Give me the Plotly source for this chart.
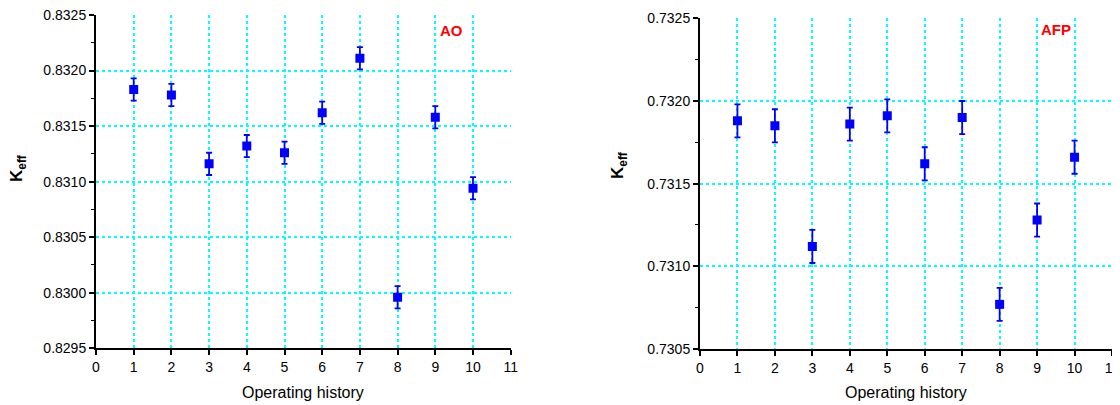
import plotly.graph_objects as go

history = [1, 2, 3, 4, 5, 6, 7, 8, 9, 10]
keff_ao = [0.83183, 0.83178, 0.83116, 0.83132, 0.83126, 0.83162, 0.83211, 0.82996, 0.83158, 0.83094]
err_ao = [0.0001] * 10
keff_afp = [0.73188, 0.73185, 0.73112, 0.73186, 0.73191, 0.73162, 0.73190, 0.73077, 0.73128, 0.73166]
err_afp = [0.0001] * 10
x_ticks = list(range(0, 12))
y_ticks_ao = [0.8295, 0.8300, 0.8305, 0.8310, 0.8315, 0.8320, 0.8325]
y_ticks_afp = [0.7305, 0.7310, 0.7315, 0.7320, 0.7325]

FONT = "Arial, Liberation Sans, sans-serif"
BLUE = "#0000FF"
CYAN = "#00FFFF"

OFF = 8  # default page body margin
W, H = 1120 - OFF, 405 - OFF
TOP, BOT = 15, 349  # plot area top/bottom in page pixels
PH = BOT - TOP


def px(xp):
    return (xp - OFF) / W


def py(yp):
    return (BOT - yp) / PH


fig = go.Figure()
fig.add_trace(go.Scatter(
    x=history, y=keff_ao, mode="markers",
    marker=dict(symbol="square", size=9, color=BLUE),
    error_y=dict(type="data", array=err_ao, color=BLUE, thickness=1.8, width=3),
    xaxis="x", yaxis="y", showlegend=False))
fig.add_trace(go.Scatter(
    x=history, y=keff_afp, mode="markers",
    marker=dict(symbol="square", size=9, color=BLUE),
    error_y=dict(type="data", array=err_afp, color=BLUE, thickness=1.8, width=3),
    xaxis="x2", yaxis="y2", showlegend=False))


def xax(domain, anchor):
    return dict(domain=domain, anchor=anchor, range=[0, 11], tickvals=x_ticks,
                ticktext=[str(v) for v in x_ticks],
                showline=True, linecolor="black", linewidth=2,
                ticks="outside", ticklen=5, tickwidth=1.5, tickcolor="black",
                showgrid=True, gridcolor=CYAN, griddash="dot", gridwidth=1.8,
                zeroline=False, automargin=False, ticklabeloverflow="allow",
                tickfont=dict(family=FONT, size=14, color="black"))


def yax(domain, anchor, rng, tv):
    half = [round((a + b) / 2, 5) for a, b in zip(tv[:-1], tv[1:])]
    return dict(domain=domain, anchor=anchor, range=rng, tickvals=tv,
                ticktext=[f"{v:.4f}" for v in tv],
                showline=True, linecolor="black", linewidth=2,
                ticks="outside", ticklen=5, tickwidth=1.5, tickcolor="black",
                showgrid=True, gridcolor=CYAN, griddash="dot", gridwidth=1.8,
                zeroline=False, automargin=False, ticklabeloverflow="allow",
                tickfont=dict(family=FONT, size=14, color="black"),
                minor=dict(tickvals=half, ticks="outside", ticklen=3, tickwidth=1.2,
                           tickcolor="black", showgrid=False))


fig.update_layout(
    width=W, height=H,
    margin=dict(l=0, r=0, t=TOP - OFF, b=H - (BOT - OFF), autoexpand=False),
    paper_bgcolor="white", plot_bgcolor="white",
    xaxis=xax([px(96), px(510.7)], "y"),
    yaxis=yax([py(348.3), 1.0], "x", [0.8295, 0.8325], y_ticks_ao),
    xaxis2=xax([px(700), px(1112)], "y2"),
    yaxis2=yax([0.0, py(18.3)], "x2", [0.7305, 0.7325], y_ticks_afp),
)

ann = []
for xc, yc in [(18, 169), (619, 166)]:
    ann.append(dict(text="<b>K</b><sub><b>eff</b></sub>", xref="paper", yref="paper",
                    x=px(xc), y=py(yc), textangle=-90, showarrow=False,
                    font=dict(family=FONT, size=17, color="black"),
                    xanchor="center", yanchor="middle"))
for xc in [303, 906]:
    ann.append(dict(text="Operating history", xref="paper", yref="paper",
                    x=px(xc), y=py(392), showarrow=False,
                    font=dict(family=FONT, size=16, color="black"),
                    xanchor="center", yanchor="middle"))
ann.append(dict(text="<b>AO</b>", xref="x", yref="y", x=9.44, y=0.83236,
                showarrow=False, font=dict(family=FONT, size=15, color="red"),
                xanchor="center", yanchor="middle"))
ann.append(dict(text="<b>AFP</b>", xref="x2", yref="y2", x=9.51, y=0.73243,
                showarrow=False, font=dict(family=FONT, size=15, color="red"),
                xanchor="center", yanchor="middle"))
fig.update_layout(annotations=ann)

fig.write_html("out.html")
